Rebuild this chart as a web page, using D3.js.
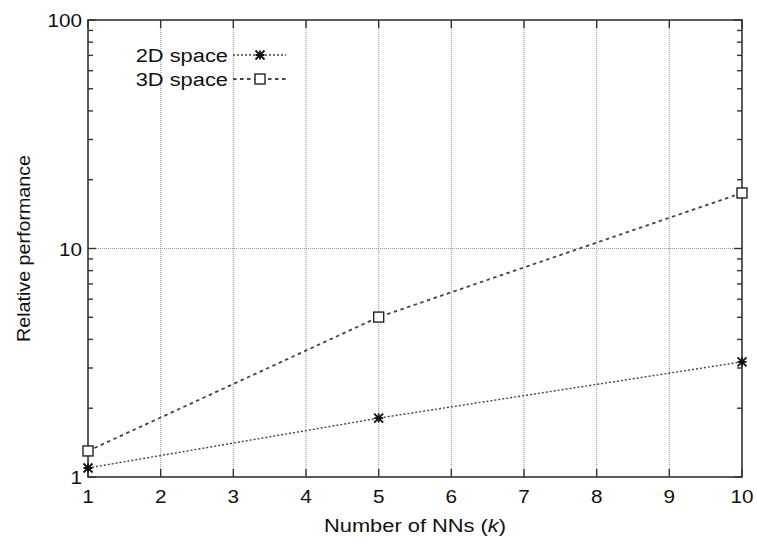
<!DOCTYPE html>
<html lang="en">
<head>
<meta charset="UTF-8">
<title>Relative performance</title>
<script src="https://d3js.org/d3.v7.min.js"></script>
<style>
  body { margin: 0; background: #fff; }
  text { font-family: "Liberation Sans", Arial, sans-serif; fill: #111; }
</style>
</head>
<body>
<svg width="757" height="543"></svg>
<script>
// data
var kValues = [1, 5, 10];
var perf2D = [1.095, 1.81, 3.19];
var perf3D = [1.30, 5.01, 17.5];
var xTicks = [1, 2, 3, 4, 5, 6, 7, 8, 9, 10];
var yTicks = [1, 10, 100];
var seriesNames = ["2D space", "3D space"];

var svg = d3.select("svg");
var mLeft = 88, mRight = 742, mTop = 20, mBottom = 477;
var fs = 18, sx = 1.15;   // text looks stretched horizontally

var x = d3.scaleLinear().domain([1, 10]).range([mLeft, mRight]);
var y = d3.scaleLog().domain([1, 100]).range([mBottom, mTop]);

// minor log ticks
var minor = [];
[1, 10].forEach(function (d) {
    for (var i = 2; i <= 9; i++) minor.push(d * i);
});

function label(px, py, anchor, size) {
    return svg.append("text")
        .attr("transform", "translate(" + px + "," + py + ") scale(" + sx + ",1)")
        .attr("text-anchor", anchor).attr("font-size", size || fs);
}

// vertical grid
svg.selectAll(".vgrid")
    .data(xTicks.slice(1, -1))
    .enter().append("line")
    .attr("x1", d => x(d)).attr("x2", d => x(d))
    .attr("y1", mTop).attr("y2", mBottom)
    .attr("stroke", "#999").attr("stroke-width", 1.1)
    .attr("stroke-dasharray", "1,1");

// horizontal grid at 10
svg.append("line")
    .attr("x1", mLeft).attr("x2", mRight)
    .attr("y1", y(10)).attr("y2", y(10))
    .attr("stroke", "#999").attr("stroke-width", 1.1)
    .attr("stroke-dasharray", "1,1");

// frame
svg.append("rect")
    .attr("x", mLeft).attr("y", mTop)
    .attr("width", mRight - mLeft).attr("height", mBottom - mTop)
    .attr("fill", "none").attr("stroke", "#333").attr("stroke-width", 1.6);

// x ticks (inward, bottom and top)
svg.selectAll(".xtb").data(xTicks).enter().append("line")
    .attr("x1", d => x(d)).attr("x2", d => x(d))
    .attr("y1", mBottom).attr("y2", mBottom - 8)
    .attr("stroke", "#333").attr("stroke-width", 1.4);
svg.selectAll(".xtt").data(xTicks).enter().append("line")
    .attr("x1", d => x(d)).attr("x2", d => x(d))
    .attr("y1", mTop).attr("y2", mTop + 8)
    .attr("stroke", "#333").attr("stroke-width", 1.4);

// y ticks major + minor, left and right
[[mLeft, 1], [mRight, -1]].forEach(function (s) {
    svg.selectAll(null).data(yTicks).enter().append("line")
        .attr("x1", s[0]).attr("x2", s[0] + s[1] * 8)
        .attr("y1", d => y(d)).attr("y2", d => y(d))
        .attr("stroke", "#333").attr("stroke-width", 1.4);
    svg.selectAll(null).data(minor).enter().append("line")
        .attr("x1", s[0]).attr("x2", s[0] + s[1] * 5)
        .attr("y1", d => y(d)).attr("y2", d => y(d))
        .attr("stroke", "#333").attr("stroke-width", 1.4);
});

// tick labels
xTicks.forEach(function (d) {
    label(x(d), mBottom + 26, "middle").text(d);
});
yTicks.forEach(function (d) {
    label(mLeft - 6, y(d) + 7, "end").text(d);
});

// axis titles
label((mLeft + mRight) / 2, 532, "middle", 19)
    .html('Number of NNs (<tspan font-style="italic">k</tspan>)');
svg.append("text")
    .attr("transform", "translate(30," + ((mTop + mBottom) / 2) + ") rotate(-90)")
    .attr("text-anchor", "middle").attr("font-size", 19)
    .attr("textLength", 187).attr("lengthAdjust", "spacingAndGlyphs")
    .text("Relative performance");

var line = d3.line()
    .x((d, i) => x(kValues[i]))
    .y(d => y(d));

// 2D series: fine dotted, star markers
svg.append("path").datum(perf2D)
    .attr("d", line).attr("fill", "none")
    .attr("stroke", "#444").attr("stroke-width", 1.4)
    .attr("stroke-dasharray", "2,2");
// 3D series: dashed, square markers
svg.append("path").datum(perf3D)
    .attr("d", line).attr("fill", "none")
    .attr("stroke", "#444").attr("stroke-width", 1.8)
    .attr("stroke-dasharray", "3.5,3.5");

function star(cx, cy) {
    var r = 4.5;
    svg.append("path")
        .attr("d", "M" + (cx - r) + "," + cy + "H" + (cx + r) +
            "M" + cx + "," + (cy - r) + "V" + (cy + r) +
            "M" + (cx - r) + "," + (cy - r) + "L" + (cx + r) + "," + (cy + r) +
            "M" + (cx - r) + "," + (cy + r) + "L" + (cx + r) + "," + (cy - r))
        .attr("stroke", "#111").attr("stroke-width", 1.8).attr("fill", "none");
}
function square(cx, cy) {
    svg.append("rect")
        .attr("x", cx - 5).attr("y", cy - 5)
        .attr("width", 10).attr("height", 10)
        .attr("fill", "#fff").attr("stroke", "#222").attr("stroke-width", 1.4);
}

perf2D.forEach(function (v, i) { star(x(kValues[i]), y(v)); });
perf3D.forEach(function (v, i) { square(x(kValues[i]), y(v)); });

// legend
var legY = [55, 79];
seriesNames.forEach(function (name, i) {
    label(228, legY[i] + 7, "end", 19).text(name);
    svg.append("line")
        .attr("x1", 233).attr("x2", 286)
        .attr("y1", legY[i]).attr("y2", legY[i])
        .attr("stroke", "#444")
        .attr("stroke-width", i === 0 ? 1.4 : 1.8)
        .attr("stroke-dasharray", i === 0 ? "2,2" : "3.5,3.5");
    if (i === 0) star(260, legY[i]);
    else square(260, legY[i]);
});
</script>
</body>
</html>
